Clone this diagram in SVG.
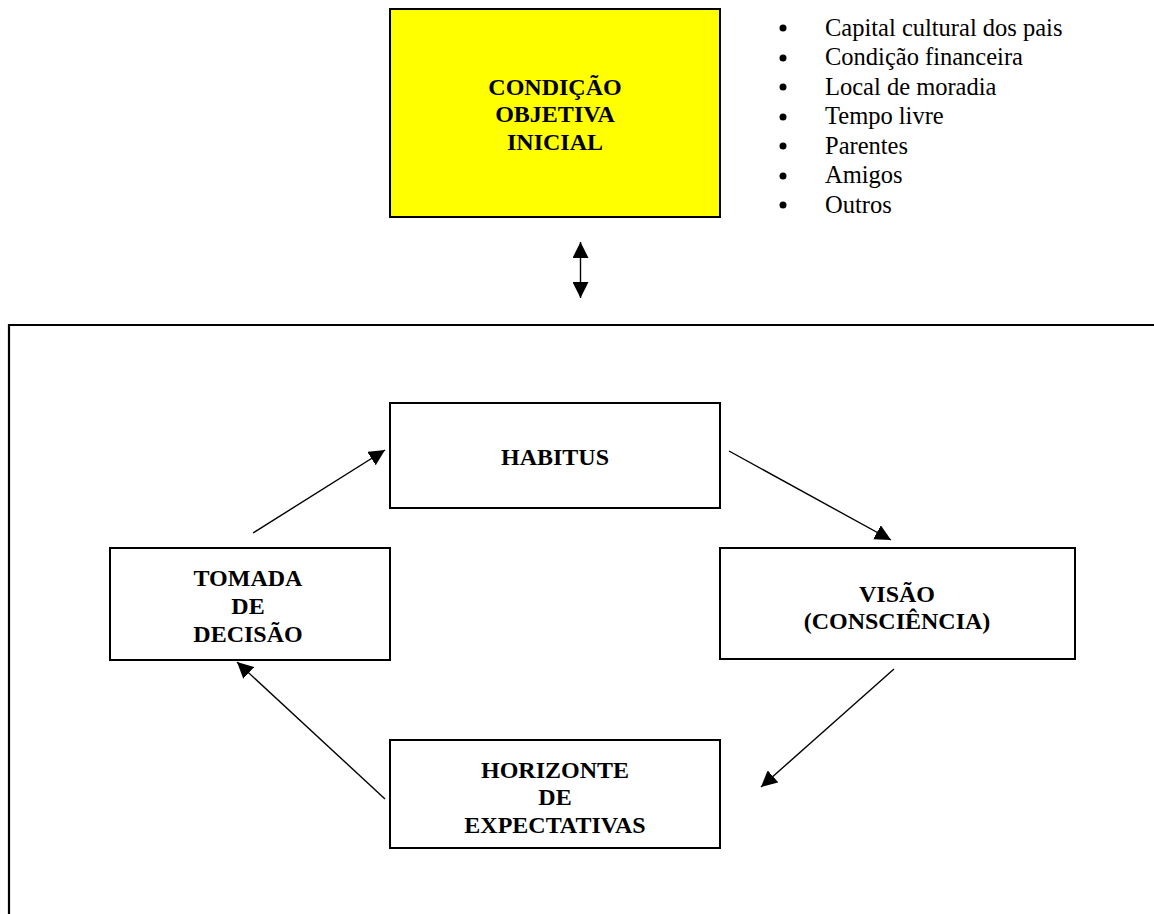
<svg xmlns="http://www.w3.org/2000/svg" width="1154" height="914" viewBox="0 0 1154 914">
<style>
.box{fill:#fff;stroke:#000;stroke-width:2}
.yel{fill:#ffff00;stroke:#000;stroke-width:2}
.lbl{font-family:"Liberation Serif","Times New Roman",serif;font-weight:bold;font-size:24px;text-anchor:middle;fill:#000}
.lst{font-family:"Liberation Serif","Times New Roman",serif;font-size:24.5px;fill:#000}
.con{stroke:#000;stroke-width:1.4;fill:none}
.frame{stroke:#000;stroke-width:2.2;fill:none}
</style>
<defs>
<marker id="ah" viewBox="0 0 10 10" refX="10" refY="5" markerWidth="16" markerHeight="16" markerUnits="userSpaceOnUse" orient="auto-start-reverse">
<path d="M0,0 L10,5 L0,10 Z" fill="#000"/>
</marker>
</defs>
<g id="frame">
<path class="frame" d="M1154,325 L9,325 L9,914"/>
</g>
<g id="condicao">
<rect class="yel" x="390" y="9" width="330" height="208"/>
<text class="lbl" x="555" y="95">CONDIÇÃO</text>
<text class="lbl" x="555" y="122">OBJETIVA</text>
<text class="lbl" x="555" y="150">INICIAL</text>
</g>
<g id="lista">
<circle cx="783" cy="28" r="3.5"/>
<circle cx="783" cy="58" r="3.5"/>
<circle cx="783" cy="87" r="3.5"/>
<circle cx="783" cy="117" r="3.5"/>
<circle cx="783" cy="146" r="3.5"/>
<circle cx="783" cy="176" r="3.5"/>
<circle cx="783" cy="205" r="3.5"/>
<text class="lst" x="825" y="36">Capital cultural dos pais</text>
<text class="lst" x="825" y="65">Condição financeira</text>
<text class="lst" x="825" y="95">Local de moradia</text>
<text class="lst" x="825" y="124">Tempo livre</text>
<text class="lst" x="825" y="154">Parentes</text>
<text class="lst" x="825" y="183">Amigos</text>
<text class="lst" x="825" y="213">Outros</text>
</g>
<g id="habitus">
<rect class="box" x="390" y="403" width="330" height="105"/>
<text class="lbl" x="555" y="465">HABITUS</text>
</g>
<g id="tomada">
<rect class="box" x="110" y="548" width="280" height="112"/>
<text class="lbl" x="248" y="586">TOMADA</text>
<text class="lbl" x="248" y="614">DE</text>
<text class="lbl" x="248" y="642">DECISÃO</text>
</g>
<g id="visao">
<rect class="box" x="720" y="548" width="355" height="111"/>
<text class="lbl" x="897" y="602">VISÃO</text>
<text class="lbl" x="897" y="629">(CONSCIÊNCIA)</text>
</g>
<g id="horizonte">
<rect class="box" x="390" y="740" width="330" height="108"/>
<text class="lbl" x="555" y="778">HORIZONTE</text>
<text class="lbl" x="555" y="805">DE</text>
<text class="lbl" x="555" y="833">EXPECTATIVAS</text>
</g>
<g id="connectors">
<line class="con" x1="580.5" y1="242" x2="580.5" y2="298" marker-start="url(#ah)" marker-end="url(#ah)"/>
<line class="con" x1="253" y1="533" x2="385" y2="450" marker-end="url(#ah)"/>
<line class="con" x1="729" y1="451" x2="891" y2="540" marker-end="url(#ah)"/>
<line class="con" x1="894" y1="669" x2="761" y2="787" marker-end="url(#ah)"/>
<line class="con" x1="385" y1="799" x2="237" y2="662" marker-end="url(#ah)"/>
</g>
</svg>
